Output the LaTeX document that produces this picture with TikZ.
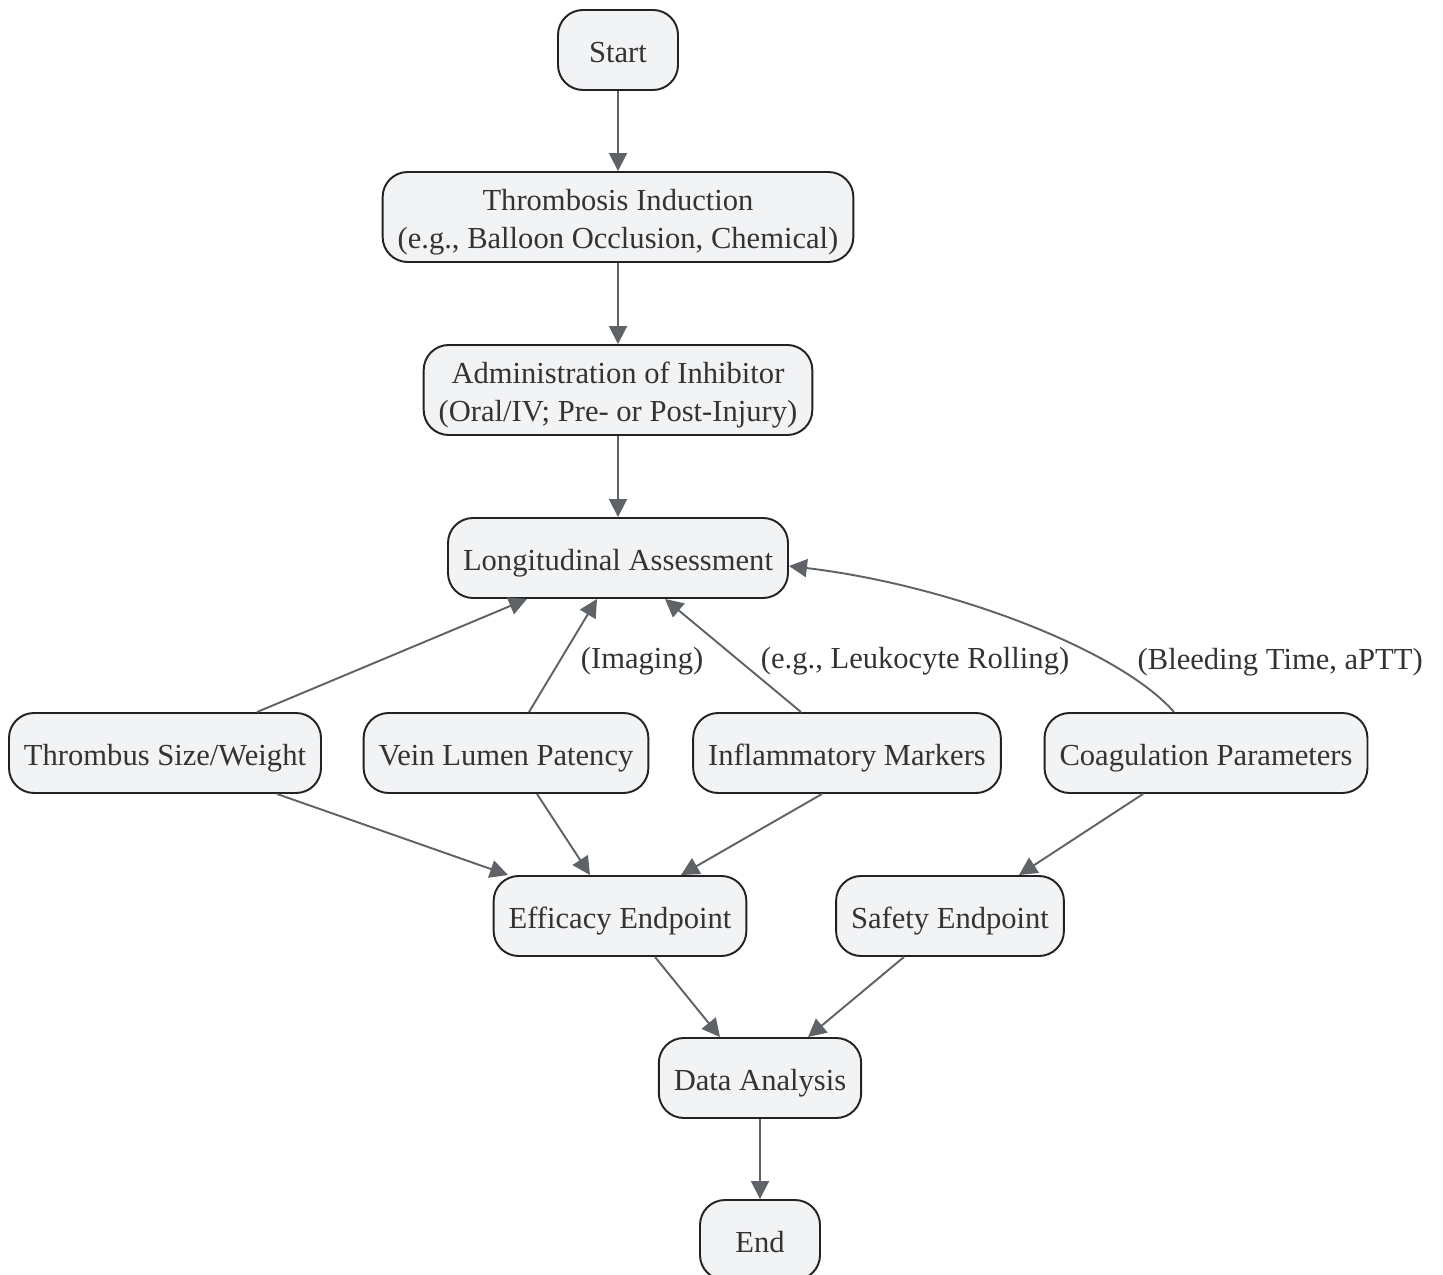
\documentclass[tikz,border=0pt]{standalone}
\usepackage{fontspec}
\setmainfont{Liberation Serif}
\usetikzlibrary{arrows.meta}
\definecolor{boxfill}{HTML}{F2F3F5}
\definecolor{boxline}{HTML}{222222}
\definecolor{boxtext}{HTML}{333333}
\definecolor{edgeline}{HTML}{5F6368}
\tikzset{
	stepbox/.style={draw=boxline, fill=boxfill, line width=1.1pt, rounded corners=0.5cm,
		minimum width=2.4cm, minimum height=1.6cm, inner xsep=0.3cm, align=center, text=boxtext,
		text height=0.64cm, text depth=0.14cm, font=\fontsize{17.4}{21.6}\selectfont},
	widebox/.style={stepbox, minimum height=1.8cm, text height=, text depth=},
	flow/.style={draw=edgeline, line width=1.1pt, -{Triangle[length=0.36cm,width=0.36cm]}},
	lbl/.style={font=\fontsize{17.4}{21.6}\selectfont, text=boxtext, anchor=west, inner sep=0pt}
}
\begin{document}
\begin{tikzpicture}
			\useasboundingbox (0,0) rectangle (28.86,-25.5);
			\node[stepbox] (start) at (12.36,-1.0) {Start};
			\node[widebox] (induct) at (12.36,-4.34) {\rule{0pt}{0.62cm}Thrombosis Induction\\(e.g., Balloon Occlusion, Chemical)};
			\node[widebox] (admin) at (12.36,-7.8) {\rule{0pt}{0.62cm}Administration of Inhibitor\\(Oral/IV; Pre- or Post-Injury)};
			\node[stepbox] (long) at (12.36,-11.16) {Longitudinal Assessment};
			\node[stepbox] (tsw) at (3.3,-15.06) {Thrombus Size/Weight};
			\node[stepbox] (vein) at (10.12,-15.06) {Vein Lumen Patency};
			\node[stepbox] (infl) at (16.94,-15.06) {Inflammatory Markers};
			\node[stepbox] (coag) at (24.12,-15.06) {Coagulation Parameters};
			\node[stepbox] (eff) at (12.4,-18.32) {Efficacy Endpoint};
			\node[stepbox] (safe) at (19.0,-18.32) {Safety Endpoint};
			\node[stepbox] (data) at (15.2,-21.56) {Data Analysis};
			\node[stepbox] (end) at (15.2,-24.8) {End};
			\draw[flow] (start) -- (induct);
			\draw[flow] (induct) -- (admin);
			\draw[flow] (admin) -- (long);
			\draw[flow] ([xshift=1.84cm]tsw.north) -- ([xshift=-1.82cm]long.south);
			\draw[flow] ([xshift=0.46cm]vein.north) -- node[lbl, pos=0.5, xshift=0.34cm, yshift=-0.12cm] {(Imaging)} ([xshift=-0.42cm]long.south);
			\draw[flow] ([xshift=-0.92cm]infl.north) -- node[lbl, pos=0.5, xshift=0.54cm, yshift=-0.12cm] {(e.g., Leukocyte Rolling)} ([xshift=0.94cm]long.south);
			\draw[flow] ([xshift=-0.64cm]coag.north) .. controls (22.4,-13.0) and (19.0,-11.7) .. node[lbl, pos=0.25, xshift=0.46cm, yshift=0.08cm] {(Bleeding Time, aPTT)} ([yshift=-0.16cm]long.east);
			\draw[flow] ([xshift=2.24cm]tsw.south) -- ([xshift=-2.24cm]eff.north);
			\draw[flow] ([xshift=0.62cm]vein.south) -- ([xshift=-0.6cm]eff.north);
			\draw[flow] ([xshift=-0.5cm]infl.south) -- ([xshift=1.22cm]eff.north);
			\draw[flow] ([xshift=-1.26cm]coag.south) -- ([xshift=1.38cm]safe.north);
			\draw[flow] ([xshift=0.7cm]eff.south) -- ([xshift=-0.8cm]data.north);
			\draw[flow] ([xshift=-0.92cm]safe.south) -- ([xshift=0.96cm]data.north);
			\draw[flow] (data) -- (end);
\end{tikzpicture}
\end{document}
